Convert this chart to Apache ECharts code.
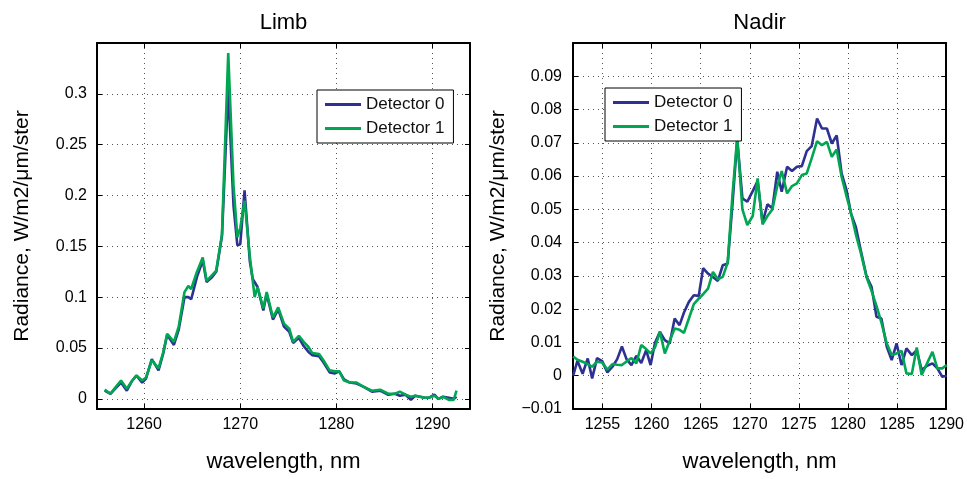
<!DOCTYPE html>
<html><head><meta charset="utf-8">
<script src="https://cdn.jsdelivr.net/npm/echarts@6/dist/echarts.min.js"></script>
<style>html,body{margin:0;padding:0;background:#fff}#c{width:967px;height:479px}</style>
</head><body><div id="c"></div>
<script>
// ---- data ----
const panelTitles = ['Limb', 'Nadir'];
const seriesNames = ['Detector 0', 'Detector 1'];
const xTitle = 'wavelength, nm';
const yTitle = 'Radiance, W/m2/\u03bcm/ster';

const limbWavelength = [1255.9,1256.5,1257.0,1257.6,1258.2,1258.7,1259.2,1259.8,1260.2,1260.8,1261.5,1262.0,1262.4,1263.1,1263.6,1264.2,1264.6,1264.9,1265.5,1266.1,1266.5,1267.0,1267.5,1268.1,1268.75,1269.3,1269.7,1270.0,1270.45,1271.0,1271.3,1271.5,1271.8,1272.4,1272.75,1273.4,1273.95,1274.55,1275.1,1275.5,1276.1,1276.6,1277.1,1277.5,1278.2,1278.65,1279.3,1279.85,1280.3,1280.8,1281.4,1282.1,1282.8,1283.7,1284.55,1285.4,1286.1,1286.6,1287.2,1287.75,1288.2,1288.7,1289.2,1289.6,1290.2,1290.6,1291.1,1291.7,1292.2,1292.5];
const limbDetector0 = [0.008,0.005,0.010,0.016,0.008,0.017,0.023,0.016,0.020,0.039,0.028,0.045,0.063,0.053,0.068,0.100,0.100,0.098,0.120,0.136,0.115,0.119,0.125,0.160,0.305,0.190,0.151,0.152,0.205,0.135,0.118,0.118,0.110,0.087,0.103,0.078,0.088,0.071,0.066,0.055,0.060,0.052,0.046,0.043,0.042,0.036,0.026,0.025,0.027,0.019,0.016,0.015,0.012,0.007,0.008,0.004,0.005,0.003,0.004,-0.001,0.003,0.002,0.001,0.001,0.004,0.000,0.002,0.001,0.000,0.002];
const limbDetector1 = [0.009,0.005,0.011,0.018,0.010,0.017,0.023,0.018,0.021,0.038,0.030,0.046,0.064,0.056,0.071,0.105,0.111,0.108,0.125,0.139,0.116,0.121,0.126,0.162,0.340,0.210,0.159,0.168,0.195,0.140,0.116,0.100,0.110,0.089,0.105,0.080,0.090,0.074,0.069,0.056,0.062,0.056,0.051,0.045,0.044,0.038,0.028,0.027,0.027,0.018,0.016,0.016,0.012,0.008,0.009,0.005,0.005,0.007,0.004,0.002,0.003,0.002,0.001,0.001,0.003,0.000,0.002,-0.001,-0.001,0.008];

const nadirWavelength = [1252.02,1252.45,1252.98,1253.5,1253.95,1254.45,1254.97,1255.5,1256.02,1256.5,1256.98,1257.45,1257.95,1258.45,1258.95,1259.45,1259.9,1260.35,1260.85,1261.35,1261.85,1262.35,1262.85,1263.3,1263.8,1264.3,1264.8,1265.25,1265.75,1266.25,1266.75,1267.25,1267.75,1268.25,1268.72,1269.25,1269.75,1270.3,1270.8,1271.3,1271.8,1272.3,1272.8,1273.25,1273.8,1274.3,1274.8,1275.3,1275.8,1276.3,1276.85,1277.35,1277.85,1278.35,1278.85,1279.35,1279.85,1280.3,1280.8,1281.3,1281.9,1282.4,1282.9,1283.4,1283.95,1284.45,1284.95,1285.45,1285.95,1286.5,1287.0,1287.5,1288.05,1288.6,1289.1,1289.6,1290.05];
const nadirDetector0 = [0.0000,0.0045,0.0006,0.0052,-0.0008,0.0053,0.0044,0.0010,0.0027,0.0050,0.0088,0.0050,0.0032,0.0060,0.0038,0.0077,0.0032,0.0099,0.0132,0.0107,0.0097,0.0172,0.0152,0.0190,0.0222,0.0242,0.0240,0.0323,0.0307,0.0297,0.0285,0.0332,0.0337,0.0520,0.0710,0.0533,0.0523,0.0555,0.0585,0.0460,0.0515,0.0503,0.0613,0.0553,0.0628,0.0615,0.0628,0.0630,0.0675,0.0690,0.0773,0.0743,0.0743,0.0698,0.0722,0.0608,0.0558,0.0488,0.0447,0.0377,0.0297,0.0267,0.0177,0.0172,0.0087,0.0047,0.0097,0.0032,0.0082,0.0062,0.0077,0.0017,0.0030,0.0037,0.0022,-0.0003,0.0000];
const nadirDetector1 = [0.0058,0.0048,0.0042,0.0035,0.0027,0.0042,0.0040,0.0018,0.0035,0.0033,0.0032,0.0043,0.0053,0.0037,0.0092,0.0080,0.0067,0.0085,0.0132,0.0067,0.0105,0.0142,0.0138,0.0129,0.0172,0.0215,0.0232,0.0245,0.0262,0.0312,0.0290,0.0297,0.0340,0.0548,0.0715,0.0500,0.0453,0.0480,0.0593,0.0455,0.0480,0.0500,0.0570,0.0615,0.0548,0.0570,0.0578,0.0603,0.0608,0.0653,0.0705,0.0693,0.0703,0.0658,0.0680,0.0598,0.0540,0.0490,0.0425,0.0370,0.0295,0.0255,0.0210,0.0160,0.0097,0.0062,0.0067,0.0075,0.0007,0.0005,0.0085,0.0002,0.0037,0.0072,0.0022,0.0022,0.0032];

const limbXTicks = [1260, 1270, 1280, 1290];
const limbXTickLabels = ['1260', '1270', '1280', '1290'];
const limbYTicks = [0, 0.05, 0.1, 0.15, 0.2, 0.25, 0.3];
const limbYTickLabels = ['0', '0.05', '0.1', '0.15', '0.2', '0.25', '0.3'];
const nadirXTicks = [1255, 1260, 1265, 1270, 1275, 1280, 1285, 1290];
const nadirXTickLabels = ['1255', '1260', '1265', '1270', '1275', '1280', '1285', '1290'];
const nadirYTicks = [-0.01, 0, 0.01, 0.02, 0.03, 0.04, 0.05, 0.06, 0.07, 0.08, 0.09];
const nadirYTickLabels = ['\u22120.01', '0', '0.01', '0.02', '0.03', '0.04', '0.05', '0.06', '0.07', '0.08', '0.09'];

// ---- styling / layout ----
const FONT = '"Liberation Sans", Arial, Helvetica, sans-serif';
const COLORS = ['#2e3192', '#00a651'];
const limbRange = { xmin: 1255.1, xmax: 1293.9, ymin: -0.01, ymax: 0.35 };
const nadirRange = { xmin: 1252, xmax: 1290, ymin: -0.01, ymax: 0.1 };

function fmt(ticks, labels) {
  return v => { const i = ticks.findIndex(t => Math.abs(t - v) < 1e-7); return i >= 0 ? labels[i] : ''; };
}
function frameLine() { return { show: true, onZero: false, lineStyle: { color: '#000', width: 2 } }; }
function innerTicks(vals) { return { show: true, inside: true, length: 5, customValues: vals, lineStyle: { color: '#000', width: 1 } }; }
const gridLine = { show: true, lineStyle: { color: '#555', type: [1, 4], width: 1 } };

function xAxes(gi, r, ticks, labels, title) {
  return [
    { type: 'value', gridIndex: gi, position: 'bottom', min: r.xmin, max: r.xmax,
      axisLine: frameLine(), axisTick: innerTicks(ticks), splitLine: gridLine,
      axisLabel: { customValues: ticks, formatter: fmt(ticks, labels), fontSize: 16, fontFamily: FONT, color: '#000', margin: 8 },
      name: xTitle, nameLocation: 'middle', nameGap: 42, nameTextStyle: { fontSize: 22, fontFamily: FONT, color: '#000' } },
    { type: 'value', gridIndex: gi, position: 'top', min: r.xmin, max: r.xmax,
      axisLine: frameLine(), axisTick: innerTicks(ticks), splitLine: { show: false }, axisLabel: { show: false },
      name: title, nameLocation: 'middle', nameGap: 9, nameTextStyle: { fontSize: 22, fontFamily: FONT, color: '#000' } }
  ];
}
function yAxes(gi, r, ticks, labels, margin) {
  return [
    { type: 'value', gridIndex: gi, position: 'left', min: r.ymin, max: r.ymax,
      axisLine: frameLine(), axisTick: innerTicks(ticks), splitLine: gridLine,
      axisLabel: { customValues: ticks, formatter: fmt(ticks, labels), fontSize: 16, fontFamily: FONT, color: '#000', margin: margin },
      name: yTitle, nameLocation: 'middle', nameGap: 64, nameTextStyle: { fontSize: 21, fontFamily: FONT, color: '#000' } },
    { type: 'value', gridIndex: gi, position: 'right', min: r.ymin, max: r.ymax,
      axisLine: frameLine(), axisTick: innerTicks(ticks), splitLine: { show: false }, axisLabel: { show: false } }
  ];
}
function zip(xs, ys) { return xs.map((x, i) => [x, ys[i]]); }
function lineSeries(name, color, xi, yi, data) {
  return { type: 'line', name: name, xAxisIndex: xi, yAxisIndex: yi, data: data, showSymbol: false, symbol: 'none',
    color: color, lineStyle: { color: color, width: 2.6 }, itemStyle: { color: color }, animation: false, clip: true };
}
function legendAt(left, top) {
  return { left: left, top: top, orient: 'vertical', data: seriesNames, icon: 'rect', itemWidth: 36, itemHeight: 3,
    itemGap: 7, padding: [6, 9, 6, 8], backgroundColor: '#fff', borderColor: '#000', borderWidth: 1,
    textStyle: { fontSize: 17, fontFamily: FONT, color: '#111', lineHeight: 16 }, selectedMode: false };
}

const chart = echarts.init(document.getElementById('c'), null, { renderer: 'canvas' });
chart.setOption({
  animation: false,
  backgroundColor: '#fff',
  grid: [
    { left: 97, right: 497, top: 43, bottom: 70 },
    { left: 573, right: 19, top: 43, bottom: 70 }
  ],
  xAxis: [].concat(xAxes(0, limbRange, limbXTicks, limbXTickLabels, panelTitles[0]),
                   xAxes(1, nadirRange, nadirXTicks, nadirXTickLabels, panelTitles[1])),
  yAxis: [].concat(yAxes(0, limbRange, limbYTicks, limbYTickLabels, 10),
                   yAxes(1, nadirRange, nadirYTicks, nadirYTickLabels, 11)),
  legend: [legendAt(317, 90), legendAt(605, 88)],
  series: [
    lineSeries(seriesNames[0], COLORS[0], 0, 0, zip(limbWavelength, limbDetector0)),
    lineSeries(seriesNames[1], COLORS[1], 0, 0, zip(limbWavelength, limbDetector1)),
    lineSeries(seriesNames[0], COLORS[0], 2, 2, zip(nadirWavelength, nadirDetector0)),
    lineSeries(seriesNames[1], COLORS[1], 2, 2, zip(nadirWavelength, nadirDetector1))
  ]
});
</script></body></html>
